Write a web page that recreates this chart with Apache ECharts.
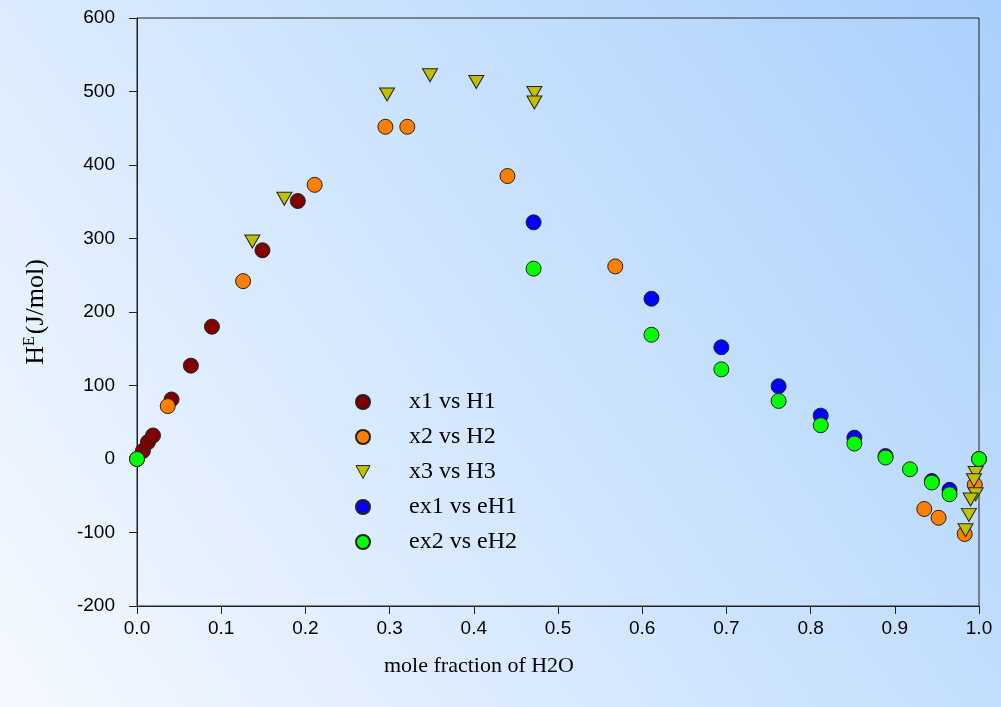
<!DOCTYPE html>
<html>
<head>
<meta charset="utf-8">
<script src="https://cdn.jsdelivr.net/npm/echarts@6/dist/echarts.min.js"></script>
<style>html,body{margin:0;padding:0;}#c{width:1001px;height:707px;}</style>
</head>
<body>
<div id="c"></div>
<script>
// ---- data ----
const xTicks = [0, 0.1, 0.2, 0.3, 0.4, 0.5, 0.6, 0.7, 0.8, 0.9, 1.0];
const yTicks = [-200, -100, 0, 100, 200, 300, 400, 500, 600];

const x1 = [0.007, 0.013, 0.019, 0.041, 0.064, 0.089, 0.149, 0.191];
const H1 = [11, 23, 32, 81, 127, 180, 284, 351];

const x2 = [0.0365, 0.126, 0.211, 0.295, 0.321, 0.440, 0.568, 0.935, 0.952, 0.983, 0.995];
const H2 = [72, 242, 373, 452, 452, 385, 262, -68, -80, -102, -35];

const x3 = [0.137, 0.175, 0.297, 0.348, 0.403, 0.472, 0.472, 0.996, 0.994, 0.996, 0.990, 0.988, 0.984];
const H3 = [296, 354, 496, 522, 513, 498, 485, -19, -29, -48, -55, -76, -97];

const ex1 = [0, 0.471, 0.611, 0.694, 0.762, 0.812, 0.852, 0.889, 0.944, 0.965, 1.0];
const eH1 = [0, 322, 218, 152, 99, 59, 29, 4, -30, -42, 0];

const ex2 = [0, 0.471, 0.611, 0.694, 0.762, 0.812, 0.852, 0.889, 0.918, 0.944, 0.965, 1.0];
const eH2 = [0, 259, 169, 122, 79, 46, 21, 2, -14, -32, -48, 0];

const names = ['x1 vs H1', 'x2 vs H2', 'x3 vs H3', 'ex1 vs eH1', 'ex2 vs eH2'];
const colors = ['#800000', '#ff8000', '#c0c000', '#0000ff', '#00ff00'];

function pairs(xs, ys) { return xs.map((v, i) => [v, ys[i]]); }

const chart = echarts.init(document.getElementById('c'));
const serif = 'Liberation Serif';
const sans = 'Liberation Sans';

function mk(i, xs, ys) {
  const tri = i === 2;
  return {
    name: names[i],
    type: 'scatter',
    data: pairs(xs, ys),
    symbol: tri ? 'triangle' : 'circle',
    symbolSize: tri ? [15, 13] : 15,
    symbolRotate: tri ? 180 : 0,
    itemStyle: { color: colors[i], borderColor: '#222', borderWidth: 1, opacity: 1 },
    emphasis: { disabled: true },
    z: 2 + i
  };
}

const downTri = 'path://M0,0 L12,0 L6,11 Z';

chart.setOption({
  animation: false,
  backgroundColor: {
    type: 'linear', x: 0, y: 1, x2: 1, y2: 0,
    colorStops: [{ offset: 0, color: '#f5f9ff' }, { offset: 1, color: '#a9d0fc' }]
  },
  grid: { left: 137, right: 22, top: 18, bottom: 101, show: true, borderColor: '#222', borderWidth: 1, backgroundColor: 'transparent' },
  legend: {
    orient: 'vertical', left: 350, top: 385,
    itemWidth: 14, itemHeight: 14, itemGap: 11,
    data: names.map((n, i) => i === 2 ? { name: n, icon: downTri, itemStyle: { color: colors[2], borderColor: '#222', borderWidth: 1 } } : { name: n }),
    textStyle: { fontFamily: serif, fontSize: 24, color: '#000', padding: [0, 0, 0, 34], lineHeight: 24 },
    selectedMode: false
  },
  xAxis: {
    type: 'value', min: 0, max: 1, interval: 0.1,
    name: 'mole fraction of H2O', nameLocation: 'middle', nameGap: 49,
    nameTextStyle: { fontFamily: serif, fontSize: 22, color: '#000', padding: [0, 158, 0, 0] },
    axisLine: { show: true, onZero: false, lineStyle: { color: '#222', width: 1 } },
    axisTick: { show: true, length: 8, inside: false, lineStyle: { color: '#222' } },
    axisLabel: { fontFamily: sans, fontSize: 19, color: '#000', margin: 13, formatter: v => v.toFixed(1) },
    splitLine: { show: false }
  },
  yAxis: {
    type: 'value', min: -200, max: 600, interval: 100,
    name: '{h|H}{e|E}{h|(J/mol)}', nameLocation: 'middle', nameGap: 86, nameRotate: 90,
    nameTextStyle: {
      fontFamily: serif, fontSize: 26, color: '#000',
      rich: {
        h: { fontFamily: serif, fontSize: 26, color: '#000' },
        e: { fontFamily: serif, fontSize: 16, color: '#000', verticalAlign: 'top', padding: [0, 2, 13, 0] }
      }
    },
    axisLine: { show: true, onZero: false, lineStyle: { color: '#222', width: 1 } },
    axisTick: { show: true, length: 8, inside: false, lineStyle: { color: '#222' } },
    axisLabel: { fontFamily: sans, fontSize: 19, color: '#000', margin: 22 },
    splitLine: { show: false }
  },
  series: [
    mk(0, x1, H1),
    mk(1, x2, H2),
    mk(2, x3, H3),
    mk(3, ex1, eH1),
    mk(4, ex2, eH2)
  ]
});
</script>
</body>
</html>
